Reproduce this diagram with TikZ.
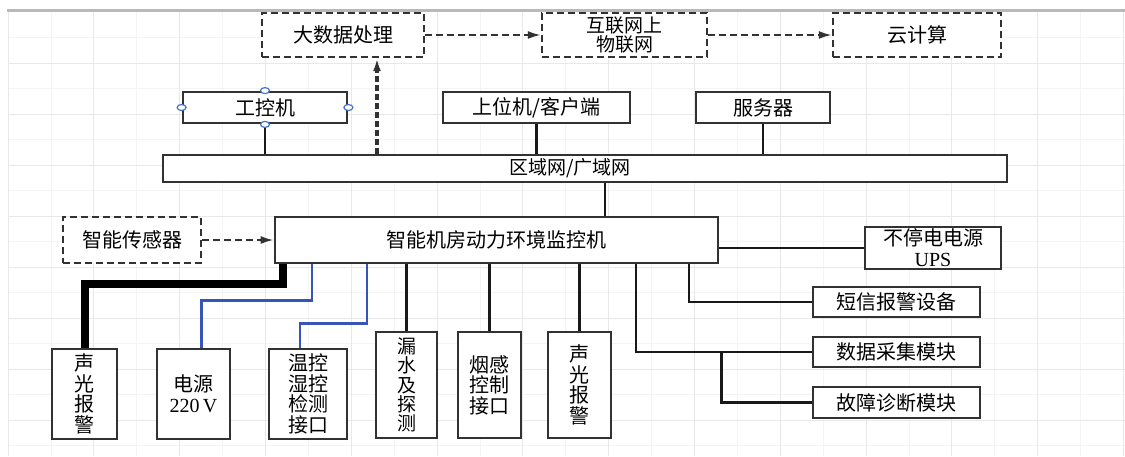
\documentclass[tikz,border=0pt]{standalone}
\usepackage{fontspec}
\setmainfont{Liberation Serif}
\newfontfamily\cjk{Noto Sans CJK SC}
\newfontfamily\lat{Liberation Serif}
\usepackage{xcolor}
\usepackage{tikz}
\usetikzlibrary{arrows.meta, positioning, calc}
\definecolor{boxgray}{RGB}{50,50,50}
\definecolor{wireblue}{RGB}{55,85,185}
\definecolor{handleblue}{RGB}{70,115,205}

\begin{document}
\begin{tikzpicture}[
  x=1pt, y=-1pt,
  box/.style={draw=boxgray, line width=2.8pt, fill=white, inner sep=0pt,
              align=center, font=\cjk\fontsize{20}{21}\selectfont},
  dbox/.style={box, line width=2.4pt, dash pattern=on 7pt off 4pt},
  vbox/.style={box, font=\cjk\fontsize{20}{20.5}\selectfont},
  wire/.style={line width=2.8pt, black!90},
  bluewire/.style={line width=2.8pt, wireblue},
  fatwire/.style={line width=8pt, black},
  darr/.style={dash pattern=on 7pt off 4pt, line width=2pt, boxgray,
               -{Latex[length=13pt,width=8pt]}},
  handle/.style={draw=handleblue, line width=1.2pt, fill=white},
  gridmaj/.style={gray!18, line width=0.8pt},
  gridmin/.style={gray!9, line width=0.6pt}
]
\useasboundingbox (0,0) rectangle (1125,456);

% Grid paper
\foreach \i in {0,...,12} {
  \draw[gridmin] ({8+42.9+85.8*\i},10) -- ({8+42.9+85.8*\i},456);
}
\foreach \j in {0,...,8} {
  \draw[gridmin] (8,{12+25.5+51*\j}) -- (1125,{12+25.5+51*\j});
}
\foreach \i in {0,...,13} {
  \draw[gridmaj] ({8+85.8*\i},10) -- ({8+85.8*\i},456);
}
\foreach \j in {1,...,8} {
  \draw[gridmaj] (8,{12+51*\j}) -- (1125,{12+51*\j});
}
\draw[gray!55, line width=3pt] (7,10) -- (1125,10);

% Top row (dashed)
\node[dbox, minimum width=162pt, minimum height=44pt] (dsj) at (343,35) {大数据处理};
\node[dbox, minimum width=165pt, minimum height=44pt, font=\cjk\fontsize{19}{17}\selectfont] (wlw) at (624.5,35) {互联网上\\物联网};
\node[dbox, minimum width=168pt, minimum height=44pt] (yjs) at (917,35) {云计算};

% Clients on the network
\node[box, minimum width=164pt, minimum height=31pt] (gkj) at (265,107.5) {工控机};
\node[box, minimum width=187pt, minimum height=31pt] (swj) at (536.5,107.5) {上位机/客户端};
\node[box, minimum width=134pt, minimum height=31pt] (fwq) at (763,107.5) {服务器};

% Network bus
\node[box, minimum width=844pt, minimum height=27pt, font=\cjk\fontsize{19}{20}\selectfont] (bus) at (585,168.5) {\hspace*{-30pt}区域网/广域网};

% Monitor and sensor
\node[box, minimum width=443pt, minimum height=46pt] (mon) at (496.5,240) {智能机房动力环境监控机};
\node[dbox, minimum width=138pt, minimum height=46pt] (sens) at (132,240) {智能传感器};

% Right column
\node[box, minimum width=136pt, minimum height=42pt] (ups) at (933,248) {不停电电源\\{\lat UPS}};
\node[box, minimum width=167pt, minimum height=30pt] (dx) at (896.5,302) {短信报警设备};
\node[box, minimum width=167pt, minimum height=30pt] (sj) at (896.5,352) {数据采集模块};
\node[box, minimum width=167pt, minimum height=31pt] (gz) at (896.5,402.5) {故障诊断模块};

% Bottom row
\node[vbox, minimum width=65pt, minimum height=90pt] (sga) at (84.5,394) {声\\光\\报\\警};
\node[vbox, minimum width=73pt, minimum height=90pt] (dy) at (193.5,394) {电源\\{\lat 220\,V}};
\node[vbox, minimum width=78pt, minimum height=90pt] (wsd) at (308,394) {温控\\湿控\\检测\\接口};
\node[vbox, minimum width=61pt, minimum height=106pt, font=\cjk\fontsize{19}{19.3}\selectfont] (ls) at (406.5,385) {漏\\水\\及\\探\\测};
\node[vbox, minimum width=63pt, minimum height=106pt] (yg) at (489.5,385) {烟感\\控制\\接口};
\node[vbox, minimum width=63pt, minimum height=106pt] (sgb) at (579.5,385) {声\\光\\报\\警};

% Dashed arrows
\draw[darr] (dsj.east) -- (wlw.west);
\draw[darr] (wlw.east) -- (yjs.west);
\draw[darr] (sens.east) -- (mon.west);
\draw[darr, line width=3.4pt, dash pattern=on 6pt off 3pt] (bus.north -| 377,0) -- (dsj.south -| 377,0);

% Network links
\draw[wire] (gkj.south) -- (gkj.south |- bus.north);
\draw[wire] (swj.south) -- (swj.south |- bus.north);
\draw[wire] (fwq.south) -- (fwq.south |- bus.north);
\draw[wire] (bus.south -| 605,0) -- (mon.north -| 605,0);
\draw[wire] (ups.west -| mon.east) -- (ups.west);

% Monitor outputs
\draw[fatwire] (mon.south -| 283,0) -- ++(0,20) -| (sga.north);
\draw[bluewire] (mon.south -| 312,0) -- ++(0,36) -| ($(dy.north)+(8,0)$);
\draw[bluewire] (mon.south -| 367,0) -- ++(0,59) -| ($(wsd.north)+(-8,0)$);
\draw[wire] (ls.north |- mon.south) -- (ls.north);
\draw[wire] (yg.north |- mon.south) -- (yg.north);
\draw[wire] (sgb.north |- mon.south) -- (sgb.north);
\draw[wire] (mon.south -| 689,0) |- (dx.west);
\draw[wire] (mon.south -| 636,0) |- (sj.west);
\draw[wire] ($(sj.west)+(-90,0)$) |- (gz.west);

% Selection handles
\foreach \a in {north,south,east,west} {
  \draw[handle] (gkj.\a) ellipse [x radius=4.5pt, y radius=3pt];
}

\end{tikzpicture}
\end{document}
